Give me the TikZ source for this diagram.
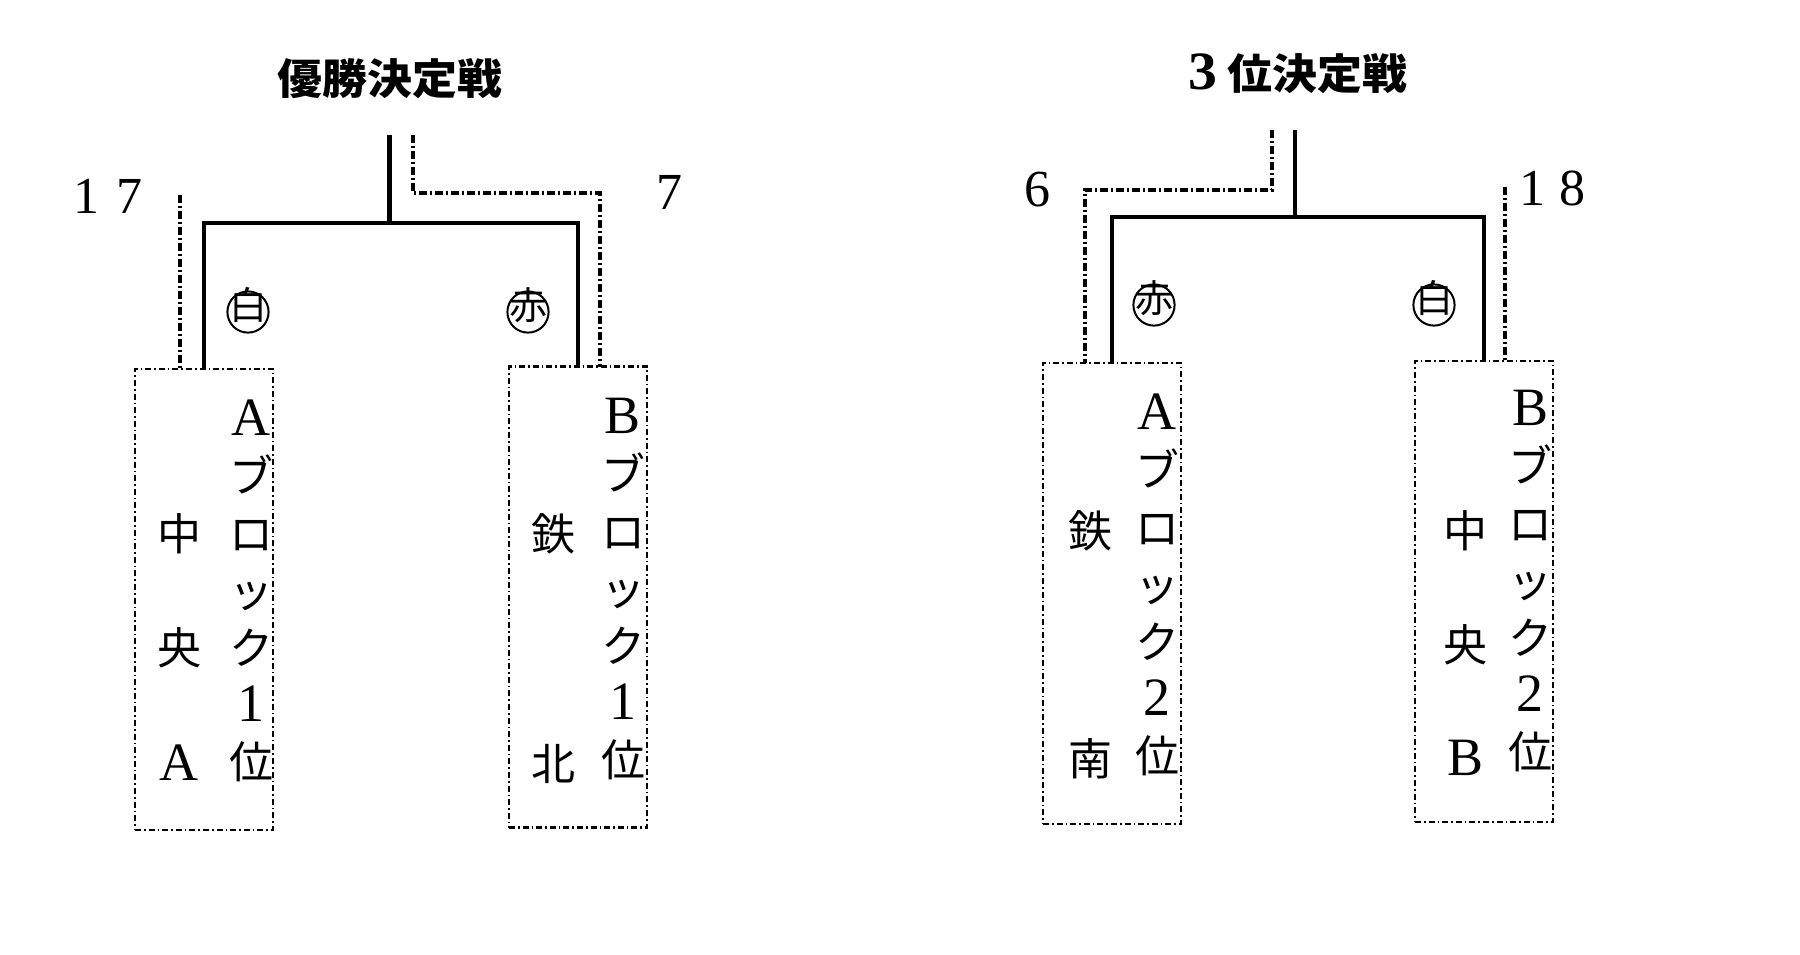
\documentclass[tikz,border=0pt]{standalone}
\usepackage{fontspec}
\newfontfamily\jp{Noto Sans CJK JP}
\newfontfamily\lat{Liberation Serif}
\newcommand\latc[1]{{\lat\fontsize{27}{27}\selectfont #1}}
\begin{document}
\begin{tikzpicture}[x=0.5pt,y=-0.5pt,
  win/.style={line width=2.4pt},
  score/.style={line width=2.1pt, dash pattern=on 4pt off 1.5pt on 1pt off 1.5pt},
  teambox/.style={draw, line width=1.4pt, dash pattern=on 3pt off 1.5pt on 0.8pt off 1.5pt,
    inner sep=0pt, outer sep=0pt, minimum width=69pt, minimum height=230.5pt},
  jch/.style={font=\jp\fontsize{22}{22}\selectfont, inner sep=0pt, text height=0.88em, text depth=0.12em},
  circ/.style={inner sep=0pt, font=\jp\fontsize{19}{19}\selectfont, text height=0.88em, text depth=0.12em,
    path picture={\draw[line width=1pt] (path picture bounding box.center) circle (10.3pt);}},
  num/.style={font=\lat\fontsize{26}{26}\selectfont, inner sep=0pt},
  ttl/.style={font=\jp\bfseries\fontsize{21}{21}\selectfont, inner sep=0pt}]
\useasboundingbox (0,0) rectangle (1800,954);
\fill[white] (0,0) rectangle (1800,954);

% titles
\node[ttl] (t1) at (390,79) {\scalebox{1.07}[1]{優勝決定戦}};
\node[ttl] (t2) at (1298,74) {\scalebox{1.07}[1]{\latc{3}\hspace{5pt}位決定戦}};

% boxes
\node[teambox] (box1) at (204,599.5) {};
\node[teambox] (box2) at (578,597) {};
\node[teambox] (box3) at (1112,593.5) {};
\node[teambox] (box4) at (1484,591.5) {};

% left bracket
\coordinate (top1) at (389.5,135);
\coordinate (j1) at (389.5,223);
\draw[win] (top1) -- (j1);
\draw[win] (box1.north) |- (j1) -| (box2.north);
\coordinate (d1s) at (413,135);
\coordinate (d1c) at (600,193);
\draw[score] (d1s) |- (d1c) -- (d1c |- box2.north);
\coordinate (d2s) at (180,195);
\draw[score] (d2s) -- (d2s |- box1.north);

% right bracket
\coordinate (top2) at (1295,130);
\coordinate (j2) at (1295,217);
\draw[win] (top2) -- (j2);
\draw[win] (box3.north) |- (j2) -| (box4.north);
\coordinate (d3s) at (1272,130);
\coordinate (d3c) at (1085,190);
\draw[score] (d3s) |- (d3c) -- (d3c |- box3.north);
\coordinate (d4s) at (1505,187);
\draw[score] (d4s) -- (d4s |- box4.north);

% scores
\node[num] (s17) at (108,196) {1\hspace{9pt}7};
\node[num] (s7) at (669,192) {7};
\node[num] (s6) at (1037,190) {6};
\node[num] (s18) at (1552,188) {1\hspace{7pt}8};

% colours
\node[jch, font=\jp\fontsize{19}{19}\selectfont] (c1) at (248,312) {白};
\node[jch, font=\jp\fontsize{19}{19}\selectfont] (c2) at (528,312) {赤};
\node[jch, font=\jp\fontsize{19}{19}\selectfont] (c3) at (1154,305) {赤};
\node[jch, font=\jp\fontsize{19}{19}\selectfont] (c4) at (1434,305) {白};
\foreach \n in {c1,c2,c3,c4}
  \draw[line width=1pt] (\n.center) circle (10.3pt);

% box texts
\foreach \c [count=\i] in {\latc{A},ブ,ロ,ッ,ク,\latc{1},位}
  \node[jch] (b1r\i) at (251,{428+57.2*(\i-1)}) {\c};
\node[jch] (b1l1) at (179,543) {中};
\node[jch] (b1l2) at (179,657) {央};
\node[jch] (b1l3) at (179,773) {\latc{A}};

\foreach \c [count=\i] in {\latc{B},ブ,ロ,ッ,ク,\latc{1},位}
  \node[jch] (b2r\i) at (623,{426+57.2*(\i-1)}) {\c};
\node[jch] (b2l1) at (553,543) {鉄};
\node[jch] (b2l2) at (553,773) {北};

\foreach \c [count=\i] in {\latc{A},ブ,ロ,ッ,ク,\latc{2},位}
  \node[jch] (b3r\i) at (1157,{422+57.2*(\i-1)}) {\c};
\node[jch] (b3l1) at (1090,540) {鉄};
\node[jch] (b3l2) at (1090,768) {南};

\foreach \c [count=\i] in {\latc{B},ブ,ロ,ッ,ク,\latc{2},位}
  \node[jch] (b4r\i) at (1530,{418+57.2*(\i-1)}) {\c};
\node[jch] (b4l1) at (1465,540) {中};
\node[jch] (b4l2) at (1465,654) {央};
\node[jch] (b4l3) at (1465,768) {\latc{B}};
\end{tikzpicture}
\end{document}
